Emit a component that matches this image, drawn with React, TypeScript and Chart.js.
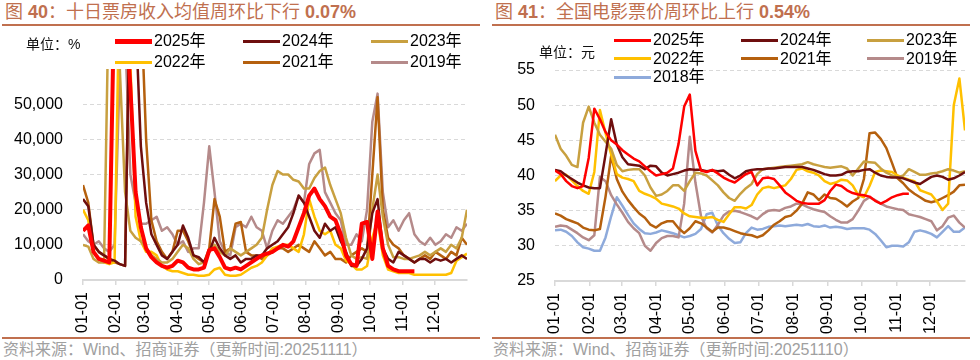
import React, { useEffect, useRef } from 'react';
import { Chart, registerables } from 'chart.js';

Chart.register(...registerables);

// ---------- shared axis data ----------
const DAYS = [0, 5, 10, 15, 20, 25, 30, 35, 40, 45, 50, 55, 60, 65, 70, 75, 80, 85, 90, 95, 100, 105, 110, 115, 120, 125, 130, 135, 140, 145, 150, 155, 160, 165, 170, 175, 180, 185, 190, 195, 200, 205, 210, 215, 220, 225, 230, 235, 240, 245, 250, 255, 260, 265, 270, 275, 280, 285, 290, 295, 300, 305, 310, 315, 320, 325, 330, 335, 340, 345, 350, 355, 360, 365];
const MONTH_DAYS = [0, 31, 59, 90, 120, 151, 181, 212, 243, 273, 304, 334];
const MONTH_LABELS = ['01-01', '02-01', '03-01', '04-01', '05-01', '06-01', '07-01', '08-01', '09-01', '10-01', '11-01', '12-01'];

// ---------- 图40 十日票房收入均值 ----------
const BOX_2025 = [
  14000, 15500, 8000, 6000, 5500, 5000, 85000, 90000, 80000, 55000,
  25000, 15000, 9000, 6500, 5000, 4000, 3500, 4000, 5500, 5000,
  3500, 3000, 3000, 3500, 8500, 9000, 6500, 3500, 3000, 3500,
  3000, 4000, 5000, 6000, 7000, 7500, 8000, 9000, 10000, 9500,
  11000, 15000, 19000, 24000, 26000, 23000, 21000, 18000, 17000, 13000,
  7000, 4500, 4000, 16000, 16500, 6000, 19500, 9000, 4000, 3000,
  2500, 2500, 2500, 2500, null, null, null, null, null, null,
  null, null, null, null,
];
const BOX_2024 = [
  23000, 21000, 10000, 8000, 7000, 6000, 5500, 4500, 4000, 90000,
  75000, 38000, 22000, 13000, 10000, 7000, 6000, 8000, 10000, 15500,
  12000, 7000, 6500, 5000, 8000, 12000, 9000, 7000, 6000, 7000,
  5000, 6000, 6000, 7000, 7000, 9000, 10000, 11000, 13000, 15000,
  19000, 24000, 22000, 18000, 14000, 12000, 16000, 14000, 15000, 11000,
  8000, 4000, 4000, 6000, 9000, 19000, 23000, 9000, 6000, 5000,
  8000, 7000, 6000, 5000, 6000, 6000, 5000, 6000, 5500, 6000,
  5000, 6000, 7000, 6000,
];
const BOX_2023 = [
  10000, 9500, 6000, 5000, 5000, 90000, 90000, 60000, 25000, 14000,
  12000, 11000, 9000, 7000, 6000, 5000, 5000, 6000, 8000, 10000,
  9000, 6000, 4500, 5000, 8000, 10000, 8000, 7000, 9000, 8000,
  7000, 8000, 9000, 10000, 12000, 20000, 27000, 31000, 30000, 30000,
  28500, 28000, 26000, 26000, 29000, 31000, 32000, 27000, 23000, 19000,
  12000, 7000, 6000, 6500, 6000, 20000, 30000, 18000, 10000, 6500,
  6500, 6000, 6000, 6500, 7000, 8000, 7000, 8000, 9000, 8000,
  10000, 9000, 12000, 20000,
];
const BOX_2022 = [
  20000, 17000, 8000, 6000, 5000, 4500, 5000, 90000, 90000, 62000,
  18000, 11000, 8000, 8000, 7000, 4000, 3000, 2500, 2500, 2000,
  1500, 1500, 1200, 1200, 1500, 3000, 3500, 1500, 1200, 1200,
  1500, 2500, 3500, 4000, 5000, 7000, 9000, 9500, 10000, 10000,
  9000, 8000, 13000, 23000, 18000, 14000, 13000, 14000, 10000, 9000,
  5500, 4500, 3000, 3000, 4000, 12000, 17000, 7000, 3000, 2500,
  2000, 2000, 2000, 1500, 1500, 1500, 1500, 1500, 1500, 1500,
  2000, 5500, 6500, 7500,
];
const BOX_2021 = [
  27000, 22000, 10000, 8000, 7000, 6000, 5000, 4500, 4000, 90000,
  90000, 80000, 40000, 17000, 11000, 8000, 6000, 8000, 14000, 14000,
  11000, 7000, 6000, 5000, 9000, 23000, 18000, 8000, 9000, 16000,
  16500, 8000, 7000, 7000, 6000, 7000, 8000, 9000, 9000, 8000,
  9000, 10000, 9000, 8000, 11000, 9000, 7000, 8000, 6000, 6000,
  5000, 7000, 8000, 9000, 8000, 30000, 52000, 20000, 12000, 10000,
  9000, 7000, 6000, 5000, 6000, 7000, 6000, 8000, 7000, 6000,
  8000, 7000, 12000, 10000,
];
const BOX_2019 = [
  13000, 11000, 10000, 11000, 9000, 8000, 10000, 60000, 70000, 30000,
  22000, 16000, 16000, 17000, 18000, 14000, 15000, 13000, 10000, 11000,
  8000, 9000, 9000, 22000, 38000, 25000, 11000, 8000, 7000, 15000,
  16000, 15000, 18000, 15000, 14000, 9000, 14000, 17000, 16000, 18000,
  20000, 24000, 22000, 33000, 36000, 37000, 25000, 22000, 19000, 17000,
  10000, 10000, 13000, 11000, 20000, 45000, 53000, 25000, 15000, 17000,
  14000, 17000, 19000, 13000, 11000, 10000, 12000, 10000, 11000, 13000,
  12000, 15000, 14000, 16000,
];

// ---------- 图41 全国电影票价 ----------
const PRICE_2025 = [
  40.7, 40.2, 39.2, 38.5, 38.2, 38.5, 42.5, 49.5, 48, 46.2,
  45, 44.4, 43.6, 43, 42.4, 42, 41.3, 40.6, 40, 40.2,
  40.4, 41, 44.5, 49.8, 51.5, 43.5, 40.7, 40.5, 40.8, 40.3,
  39.7, 39.3, 39, 39.6, 40.2, 40.5, 38.6, 39.6, 39.7, 39.5,
  38.6, 37.6, 37, 36.4, 36.1, 36, 36, 36, 36.5, 37.8,
  38.7, 38.5, 37.9, 37.5, 37.3, 37.2, 37, 36.4, 36, 36.4,
  36.9, 37.2, 37.4, 37.4, null, null, null, null, null, null,
  null, null, null, null,
];
const PRICE_2024 = [
  40.8, 40.6, 40, 39.5, 39, 38.6, 38.3, 38.2, 38.2, 43,
  48, 44.4, 42.6, 41.6, 41.5, 41.4, 40.9, 41.4, 41.3, 40.4,
  40, 40.2, 40.4, 40.7, 40.9, 40.8, 40.8, 40.6, 40.7, 40.6,
  40.7, 40.1, 39.6, 40, 40.6, 40.8, 40.9, 40.9, 41, 41,
  41.1, 41.2, 41.2, 41.2, 41.2, 41, 40.8, 40.5, 40.2, 40,
  40, 40.1, 40.5, 40.6, 40.6, 40.8, 40.9, 40.4, 40, 39.8,
  39.7, 39.7, 39.6, 39.3, 39, 38.8, 39.3, 39.8, 40, 39.8,
  39.4, 39.6, 40, 40.5,
];
const PRICE_2023 = [
  45.8, 43.8, 42.8, 41.5, 41.2, 47.5, 49.8, 47.5, 45.8, 44.8,
  43.8, 41.5, 40.6, 40.8, 40.9, 40.9, 40, 38.3, 37.1, 37.3,
  37.8, 38.6, 38.6, 37.8, 39.2, 40.4, 40.3, 40, 39.3, 38.6,
  37.6, 36.8, 36.4, 37.4, 38.2, 38.8, 40.2, 40.9, 41, 41.1,
  41.2, 41.3, 41.4, 41.5, 41.6, 41.9, 41.6, 41.4, 41.2, 41.1,
  41.2, 41.3, 41, 40, 41, 42, 41.9, 41.8, 41, 40.4,
  40, 39.7, 40, 40.9, 40.5, 40.1, 40.1, 40.3, 40.4, 40.6,
  40.9, 40.7, 40.4, 40.6,
];
const PRICE_2022 = [
  39.2, 40, 40.1, 39.3, 38.5, 37.8, 37.4, 40.5, 49.3, 46,
  43, 40.2, 39.7, 39.5, 39.2, 37.8, 37.4, 37.1, 36.7, 36,
  35.8, 35.6, 35.3, 34.6, 34.2, 34.1, 34, 34, 34.1, 33.7,
  33.4, 34.5, 35.5, 35.5, 35.3, 35.8, 37.3, 38.2, 38.4, 38.2,
  38.4, 38.6, 39.5, 40.8, 41, 40.6, 40.4, 40, 39.2, 38.8,
  39, 39.4, 39.3, 38.6, 37.2, 36.9, 38.5, 40.5, 40.7, 40.6,
  40.5, 40, 39.7, 39.4, 39.2, 37.9, 37.6, 37.3, 36.3, 35.1,
  36, 50, 53.8, 46.4,
];
const PRICE_2021 = [
  34.6, 34.3, 33.8, 33.5, 33.2, 32.6, 32.3, 32.2, 32.4, 37,
  42.8, 39.5, 37.7, 36.5, 35.5, 34.6, 34, 33, 32.6, 33.2,
  33.5, 33.5, 32.5, 31.8, 32.5, 33.5, 33.2, 32.6, 32, 32.6,
  32.6, 32.4, 32.1, 31.8, 31.6, 31.5, 31.2, 31.5, 32.2, 33,
  33.5, 34.1, 34.3, 35, 36, 37.6, 37.3, 36.5, 37.3, 36.8,
  36.7, 36.2, 35.6, 36.3, 36.8, 39.5, 46, 46.1, 45.2, 43.9,
  41.8, 39.6, 38.9, 38, 37.4, 36.9, 36.4, 36.2, 36.4, 36.8,
  37.2, 37.7, 38.6, 38.7,
];
const PRICE_2019 = [
  32.7, 32.9, 32.8, 32.3, 31.8, 31.2, 30.8, 31.5, 39.8, 39.2,
  37.2, 35.9, 34.7, 33.4, 32.5, 31.8, 30, 29.3, 30.4, 31.1,
  31.4, 31.4, 31.2, 36, 45.5, 39, 34.2, 32.5, 31.9, 33,
  34.3, 34.9, 35, 34.8, 34.5, 34.2, 33.8, 34.5, 35, 35.1,
  35, 35.4, 35.6, 36, 35.9, 35.5, 35.2, 35, 34.8, 34.2,
  33.7, 33.3, 33.3, 33.8, 35, 36.4, 36.9, 36.5, 36, 35.6,
  35.4, 35.2, 35.1, 34.5, 34.3, 34.1, 33.8, 33.5, 32.2, 32.8,
  34, 34.3, 33.3, 32.6,
];
const PRICE_2018 = [
  32.2, 32.3, 32, 31.4, 30.5, 29.8, 29.6, 29.3, 29.3, 31.2,
  34.2, 36.9, 35.7, 34.4, 33.2, 32.4, 31.8, 31.7, 31.9, 32.2,
  32, 31.8, 31.5, 31.2, 31.4, 31.7, 32.4, 34.5, 34.7, 32.9,
  31.8, 31, 30.4, 30.5, 31.8, 32.6, 32.3, 32.4, 32.7, 32.8,
  32.9, 32.8, 32.9, 33, 32.9, 33.1, 32.8, 32.7, 32.9, 32.6,
  32.7, 32.6, 32.4, 32.5, 32.5, 32.5, 32.3, 31.7, 30.8, 29.8,
  30, 30, 29.9, 30.5, 32, 32.2, 32, 31.7, 31.2, 32,
  32.8, 32, 32, 32.6,
];

const COLORS: Record<string, string> = {
  '2025年': '#FF0000',
  '2024年': '#6E0E0E',
  '2023年': '#C8A040',
  '2022年': '#FFC000',
  '2021年': '#B5600E',
  '2019年': '#B58A8A',
  '2018年': '#8EAADB',
};

const BOX_SERIES: [string, (number | null)[]][] = [
  ['2025年', BOX_2025],
  ['2024年', BOX_2024],
  ['2023年', BOX_2023],
  ['2022年', BOX_2022],
  ['2021年', BOX_2021],
  ['2019年', BOX_2019],
];
const PRICE_SERIES: [string, (number | null)[]][] = [
  ['2025年', PRICE_2025],
  ['2024年', PRICE_2024],
  ['2023年', PRICE_2023],
  ['2022年', PRICE_2022],
  ['2021年', PRICE_2021],
  ['2019年', PRICE_2019],
  ['2018年', PRICE_2018],
];

const LATIN = '"Liberation Sans", Arial, "Noto Sans CJK SC", sans-serif';
const CJK = '"Liberation Sans", Arial, "Noto Sans CJK SC", sans-serif';
const ACCENT = '#C0704F';
const GRID = '#D9D9D9';

function buildConfig(opts: {
  series: [string, (number | null)[]][];
  thickFirst: boolean;
  min: number;
  max: number;
  step: number;
  hideTop: boolean;
  fmt: (v: number) => string;
  yWidth: number;
  xHeight: number;
  padTop: number;
  padRight: number;
}): any {
  const datasets = opts.series.map(([label, vals], i) => ({
    label,
    data: DAYS.map((d, k) => ({ x: d, y: vals[k] })),
    borderColor: COLORS[label],
    backgroundColor: COLORS[label],
    borderWidth: opts.thickFirst && i === 0 ? 4 : 2.5,
    pointRadius: 0,
    tension: 0,
    fill: false,
    spanGaps: false,
    borderJoinStyle: 'round',
  }));
  return {
    type: 'line',
    data: { datasets },
    options: {
      animation: false,
      responsive: false,
      maintainAspectRatio: false,
      events: [],
      layout: { padding: { top: opts.padTop, right: opts.padRight, left: 0, bottom: 0 } },
      plugins: { legend: { display: false }, tooltip: { enabled: false }, title: { display: false } },
      scales: {
        x: {
          type: 'linear',
          min: 0,
          max: 365,
          afterBuildTicks: (axis: any) => {
            axis.ticks = MONTH_DAYS.map((v) => ({ value: v }));
          },
          afterFit: (s: any) => {
            s.height = opts.xHeight;
          },
          ticks: {
            autoSkip: false,
            minRotation: 90,
            maxRotation: 90,
            padding: 7,
            color: '#000',
            font: { family: LATIN, size: 16 },
            callback: (_v: any, i: number) => MONTH_LABELS[i],
          },
          grid: { drawOnChartArea: false, drawTicks: true, tickLength: 5, color: GRID, lineWidth: 1.5 },
          border: { display: true, color: GRID, width: 2 },
        },
        y: {
          min: opts.min,
          max: opts.max,
          afterBuildTicks: (axis: any) => {
            const t: any[] = [];
            for (let v = opts.min; v <= opts.max; v += opts.step) t.push({ value: v });
            axis.ticks = t;
          },
          afterFit: (s: any) => {
            s.width = opts.yWidth;
          },
          ticks: {
            padding: 20,
            color: '#000',
            font: { family: LATIN, size: 16 },
            callback: (v: number) => (opts.hideTop && v === opts.max ? '' : opts.fmt(v)),
          },
          grid: {
            drawTicks: false,
            lineWidth: 1,
            color: (ctx: any) => (opts.hideTop && ctx.tick && ctx.tick.value === opts.max ? 'rgba(0,0,0,0)' : GRID),
          },
          border: { display: false, dash: [4, 3] },
        },
      },
    },
  };
}

function ChartCanvas({ config, left, top, width, height }: any) {
  const ref = useRef<HTMLCanvasElement>(null);
  useEffect(() => {
    const chart = new Chart(ref.current as HTMLCanvasElement, config);
    return () => chart.destroy();
  }, []);
  return (
    <canvas
      ref={ref}
      width={width}
      height={height}
      style={{ position: 'absolute', left, top, width, height }}
    />
  );
}

function LegendItem({ x, y, label, thick }: { x: number; y: number; label: string; thick: number }) {
  return (
    <div style={{ position: 'absolute', left: x, top: y - 10, height: 20, display: 'flex', alignItems: 'center', whiteSpace: 'nowrap' }}>
      <span style={{ display: 'inline-block', width: 37, height: thick, background: COLORS[label] }} />
      <span style={{ marginLeft: 2, fontSize: 16, lineHeight: '20px', color: '#000', fontFamily: CJK }}>{label}</span>
    </div>
  );
}

function Panel({ left, title, num, change, unit, unitX, unitY, source, legendCols, legendRows, series, thickFirst, config, canvas }: any) {
  return (
    <div style={{ position: 'absolute', left, top: 0, width: 490, height: 360 }}>
      <div style={{ position: 'absolute', left: 5, top: 0, height: 24, lineHeight: '24px', fontSize: 18, color: ACCENT, fontFamily: CJK, whiteSpace: 'nowrap' }}>
        图 <b>{num}</b>：{title} <b>{change}</b>
      </div>
      <div style={{ position: 'absolute', left: 2, top: 24, width: 478, height: 2, background: ACCENT }} />
      <ChartCanvas config={config} left={canvas.left} top={canvas.top} width={canvas.width} height={canvas.height} />
      <div style={{ position: 'absolute', left: unitX, top: unitY - 9, lineHeight: '18px', fontSize: 14, color: '#111', fontFamily: CJK, whiteSpace: 'nowrap' }}>{unit}</div>
      {series.map(([label]: [string], i: number) => (
        <LegendItem
          key={label}
          x={legendCols[i % 3]}
          y={legendRows[Math.floor(i / 3)]}
          label={label}
          thick={thickFirst && i === 0 ? 5 : 3}
        />
      ))}
      <div style={{ position: 'absolute', left: 2, top: 337, width: 478, height: 2, background: ACCENT }} />
      <div style={{ position: 'absolute', left: 3, top: 341, lineHeight: '18px', fontSize: 16, color: '#A0A0A0', fontFamily: CJK, whiteSpace: 'nowrap' }}>{source}</div>
    </div>
  );
}

const boxConfig = buildConfig({
  series: BOX_SERIES,
  thickFirst: true,
  min: 0,
  max: 60000,
  step: 10000,
  hideTop: true,
  fmt: (v) => v.toLocaleString('en-US'),
  yWidth: 83,
  xHeight: 56,
  padTop: 39,
  padRight: 23,
});

const priceConfig = buildConfig({
  series: PRICE_SERIES,
  thickFirst: false,
  min: 25,
  max: 55,
  step: 5,
  hideTop: false,
  fmt: (v) => String(v),
  yWidth: 65,
  xHeight: 55,
  padTop: 40,
  padRight: 15,
});

export default function App() {
  return (
    <div style={{ position: 'fixed', left: 0, top: 0, width: 980, height: 360, background: '#fff', overflow: 'hidden', fontFamily: CJK }}>
      <Panel
        left={0}
        num="40"
        title="十日票房收入均值周环比下行"
        change="0.07%"
        unit="单位：%"
        unitX={26}
        unitY={44}
        source="资料来源：Wind、招商证券（更新时间:20251111）"
        legendCols={[115, 243, 371]}
        legendRows={[41, 62]}
        series={BOX_SERIES}
        thickFirst={true}
        config={boxConfig}
        canvas={{ left: 0, top: 30, width: 490, height: 306 }}
      />
      <Panel
        left={490}
        num="41"
        title="全国电影票价周环比上行"
        change="0.54%"
        unit="单位：元"
        unitX={49}
        unitY={52}
        source="资料来源：Wind、招商证券（更新时间:20251110）"
        legendCols={[124, 251, 377]}
        legendRows={[40, 58.5, 77]}
        series={PRICE_SERIES}
        thickFirst={false}
        config={priceConfig}
        canvas={{ left: 0, top: 30, width: 490, height: 306 }}
      />
    </div>
  );
}
